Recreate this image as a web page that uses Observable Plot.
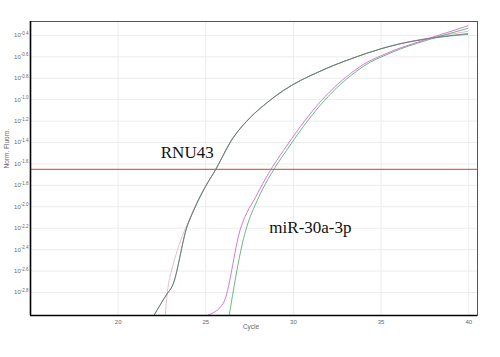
<!DOCTYPE html>
<html><head><meta charset="utf-8">
<script src="https://cdn.jsdelivr.net/npm/d3@7"></script>
<script src="https://cdn.jsdelivr.net/npm/@observablehq/plot@0.6"></script>
<style>body{margin:0;background:#fff;} #chart svg{display:block;}</style>
</head><body><div id="chart"></div>
<script>
// Axis ticks (log10 exponent of normalized fluorescence)
const yTicks = [-0.4, -0.6, -0.8, -1.0, -1.2, -1.4, -1.6, -1.8, -2.0, -2.2, -2.4, -2.6, -2.8];
const xTicks = [20, 25, 30, 35, 40];
const threshold = -1.65;

// RNU43 replicates
const rnuGreenCycle = [22.06, 22.8, 23.09, 23.94, 24.29, 25.09, 25.43, 26.57, 27.54, 28.51, 29.43, 30.40, 31.37, 32.29, 33.26, 34.23, 34.97, 35.94, 37.83, 39.94];
const rnuGreenValue = [-3.01, -2.81, -2.74, -2.18, -2.04, -1.78, -1.69, -1.353, -1.166, -1.026, -0.914, -0.821, -0.746, -0.680, -0.620, -0.564, -0.526, -0.484, -0.428, -0.390];
const rnuGreyCycle  = [22.06, 22.8, 23.09, 23.94, 24.29, 25.09, 25.43, 26.57, 27.54, 28.51, 29.43, 30.40, 31.37, 32.29, 33.26, 34.23, 34.97, 35.94, 37.83, 39.94];
const rnuGreyValue  = [-3.01, -2.81, -2.74, -2.18, -2.04, -1.78, -1.69, -1.353, -1.166, -1.026, -0.914, -0.821, -0.746, -0.680, -0.620, -0.564, -0.526, -0.484, -0.426, -0.383];
const rnuPinkCycle  = [22.69, 22.8, 23.09, 23.37, 24.11, 24.97, 25.43, 26.57, 27.54, 28.51, 29.43, 30.40, 31.37, 32.29, 33.26, 34.23, 34.97, 35.94, 37.83, 39.94];
const rnuPinkValue  = [-3.01, -2.81, -2.57, -2.41, -2.10, -1.81, -1.69, -1.353, -1.166, -1.026, -0.914, -0.821, -0.746, -0.680, -0.620, -0.564, -0.525, -0.482, -0.420, -0.362];

// miR-30a-3p replicates
const mirMagentaCycle = [25.14, 26.0, 26.97, 27.94, 28.57, 29.43, 30.40, 31.37, 32.29, 33.26, 34.23, 34.97, 35.94, 36.86, 37.83, 39.94];
const mirMagentaValue = [-3.01, -2.9, -2.21, -1.88, -1.69, -1.475, -1.250, -1.050, -0.891, -0.755, -0.648, -0.592, -0.526, -0.475, -0.423, -0.311];
const mirGreenCycle   = [26.34, 27.09, 28.11, 28.74, 29.6, 30.57, 31.54, 32.46, 33.43, 34.4, 35.14, 36.11, 37.03, 37.94, 39.94];
const mirGreenValue   = [-3.01, -2.34, -1.88, -1.69, -1.475, -1.250, -1.050, -0.891, -0.755, -0.648, -0.592, -0.526, -0.475, -0.428, -0.335];

const labelText  = ["RNU43", "miR-30a-3p"];
const labelCycle = [23.94, 30.97];
const labelValue = [-1.49, -2.19];

const series = [
  {name: "rnuPink", color: "#e6aac4", c: rnuPinkCycle, v: rnuPinkValue},
  {name: "rnuGreen", color: "#4aa282", c: rnuGreenCycle, v: rnuGreenValue},
  {name: "rnuGrey", color: "#707070", c: rnuGreyCycle, v: rnuGreyValue},
  {name: "mirGreen", color: "#4aa266", c: mirGreenCycle, v: mirGreenValue},
  {name: "mirMagenta", color: "#c85ac8", c: mirMagentaCycle, v: mirMagentaValue}
];
const rows = series.flatMap(s => s.c.map((c, i) => ({series: s.name, color: s.color, cycle: c, value: s.v[i]})));
const labels = labelText.map((t, i) => ({text: t, cycle: labelCycle[i], value: labelValue[i]}));

const xDom = [15, 40.5], yDom = [-3.015, -0.27];

const chart = Plot.plot({
  width: 500, height: 357,
  marginLeft: 30, marginTop: 21, marginRight: 23, marginBottom: 42,
  style: {fontFamily: "'Liberation Sans', Arial, sans-serif", background: "#fff"},
  x: {domain: xDom},
  y: {domain: yDom},
  marks: [
    Plot.gridY(yTicks, {stroke: "#ececec", strokeOpacity: 1}),
    Plot.gridX(xTicks, {stroke: "#ececec", strokeOpacity: 1}),
    Plot.ruleY([threshold], {stroke: "#d8402a", strokeWidth: 1}),
    ...series.map(s => Plot.line(rows.filter(r => r.series === s.name), {x: "cycle", y: "value", stroke: s.color, strokeWidth: 0.8, curve: "monotone-x", clip: true})),
    Plot.text(labels, {x: "cycle", y: "value", text: "text", fontFamily: "'Liberation Serif', 'Times New Roman', serif", fontSize: 17, fill: "#111"}),
    Plot.frame({stroke: "#555", strokeWidth: 1}),
    Plot.ruleX([xDom[0]], {stroke: "#000", strokeWidth: 1.6}),
    Plot.ruleY([yDom[0]], {stroke: "#000", strokeWidth: 1.6}),
    Plot.axisY(yTicks, {tickSize: 0, tickPadding: 2, fontSize: 6, fill: "#666", tickFormat: d => d.toFixed(1), label: null}),
    Plot.axisX(xTicks, {tickSize: 0, tickPadding: 4, fontSize: 6, fill: "#666", tickFormat: d => String(d), label: null}),
    Plot.text(["Norm. Fluoro."], {frameAnchor: "left", dx: -24, rotate: -90, fontSize: 6.5, fill: "#666", text: d => d}),
    Plot.text(["Cycle"], {frameAnchor: "bottom", dy: 13, dx: -3, fontSize: 6.5, fill: "#666", text: d => d})
  ]
});

// superscript exponents on the y tick labels: 10^x
const ns = "http://www.w3.org/2000/svg";
chart.querySelectorAll('g[aria-label="y-axis tick label"] text').forEach(t => {
  const e = t.textContent;
  t.textContent = "10";
  const ts = document.createElementNS(ns, "tspan");
  ts.setAttribute("dy", "-0.55em");
  ts.setAttribute("font-size", "4.5");
  ts.textContent = e;
  t.appendChild(ts);
});
document.getElementById("chart").appendChild(chart);
</script>
</body></html>
